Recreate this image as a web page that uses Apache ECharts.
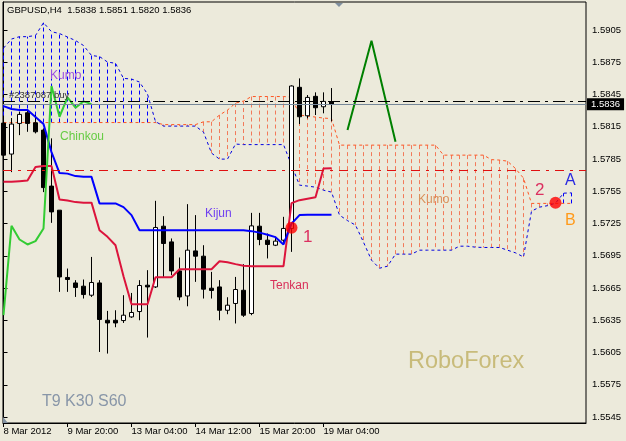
<!DOCTYPE html>
<html><head><meta charset="utf-8">
<script src="https://cdn.jsdelivr.net/npm/echarts@6/dist/echarts.min.js"></script>
<style>html,body{margin:0;padding:0;background:#eceadb;}#c{width:626px;height:441px;}</style>
</head><body><div id="c"></div>
<script>
const symbolName = 'GBPUSD';
const timeframe = 'H4';
const xTickPos = [0, 8, 16, 24, 32, 40];
const xTickLabels = ['8 Mar 2012', '9 Mar 20:00', '13 Mar 04:00', '14 Mar 12:00', '15 Mar 20:00', '19 Mar 04:00'];
const yTicks = [1.5545, 1.5575, 1.5605, 1.5635, 1.5665, 1.5695, 1.5725, 1.5755, 1.5785, 1.5815, 1.5845, 1.5875, 1.5905];

const opens = [1.58184,1.57896,1.58181,1.58280,1.58187,1.58119,1.57598,1.57374,1.56748,1.56697,1.56667,1.56583,1.56697,1.56350,1.56350,1.56347,1.56381,1.56431,1.56676,1.56660,1.57225,1.57079,1.56809,1.56576,1.56995,1.56946,1.56648,1.56660,1.56443,1.56506,1.56629,1.56413,1.57225,1.57095,1.57048,1.57095,1.57204,1.58517,1.58252,1.58433,1.58336,1.5838];
const closes = [1.57886,1.58175,1.58265,1.58181,1.58103,1.57584,1.57358,1.56753,1.56729,1.56655,1.56589,1.56701,1.56357,1.56325,1.56325,1.56397,1.56422,1.56673,1.56660,1.57213,1.57064,1.56809,1.56567,1.57002,1.56946,1.56639,1.56627,1.56443,1.56490,1.56636,1.56397,1.57228,1.57101,1.57055,1.57086,1.57204,1.58529,1.58243,1.58423,1.58327,1.58386,1.5836];
const highs = [1.58231,1.58231,1.58289,1.58305,1.58259,1.58135,1.58042,1.57374,1.56831,1.56723,1.56729,1.56939,1.56723,1.56437,1.56443,1.56583,1.56604,1.56723,1.56816,1.57461,1.57318,1.57111,1.56934,1.57430,1.57328,1.57048,1.56800,1.56723,1.56564,1.56753,1.56872,1.57349,1.57349,1.57157,1.57126,1.57312,1.58535,1.58600,1.58445,1.58470,1.58470,1.5851];
const lows = [1.57719,1.57728,1.58072,1.58103,1.58088,1.57542,1.57256,1.56614,1.56614,1.56567,1.56552,1.56567,1.56055,1.56040,1.56285,1.56325,1.56372,1.56350,1.56189,1.56650,1.56753,1.56769,1.56536,1.56480,1.56707,1.56552,1.56552,1.56350,1.56406,1.56320,1.56381,1.56397,1.57048,1.56925,1.57040,1.57070,1.56986,1.58175,1.58228,1.58259,1.58275,1.5820];

const tenkan = [1.57638,1.57638,1.57644,1.57649,1.57775,1.57784,1.57784,1.57474,1.57463,1.57449,1.57444,1.57444,1.57188,1.57126,1.57048,1.56760,1.56499,1.56499,1.56499,1.56750,1.56750,1.56750,1.56825,1.56825,1.56825,1.56825,1.56825,1.56899,1.56890,1.56872,1.56858,1.56853,1.56853,1.56853,1.56853,1.56853,1.57439,1.57467,1.57481,1.57495,1.57761,1.57765];
const kijun = [1.58342,1.58315,1.58305,1.58305,1.58240,1.58175,1.57914,1.57719,1.57714,1.57691,1.57684,1.57684,1.57437,1.57437,1.57437,1.57402,1.57328,1.57188,1.57188,1.57188,1.57188,1.57188,1.57188,1.57188,1.57188,1.57188,1.57188,1.57188,1.57188,1.57188,1.57188,1.57179,1.57165,1.57146,1.57123,1.57055,1.57249,1.57328,1.57332,1.57332,1.57332,1.57332];
const chinkou = [1.56397,1.57228,1.57101,1.57055,1.57086,1.57204,1.58529,1.58243,1.58423,1.58327,1.58386,1.5836];
const senkouA = [1.58189,1.58189,1.58189,1.58189,1.58189,1.58189,1.58189,1.58189,1.58189,1.58189,1.58189,1.58189,1.58189,1.58189,1.58189,1.58189,1.58189,1.58189,1.58189,1.58189,
  1.58170,1.58170,1.58170,1.58170,1.58170,1.58196,1.58196,1.58259,1.58305,1.58370,1.58389,1.58431,1.58431,1.58431,1.58431,1.58431,1.58426,1.58259,1.58249,1.58240,1.58231,1.58226,
  1.57979,1.57979,1.57979,1.57979,1.57979,1.57979,1.57979,1.57979,1.57979,1.57979,1.57979,1.57979,1.57979,1.57886,1.57886,1.57886,1.57886,1.57886,1.57886,1.57844,1.57840,1.57830,1.57761,1.57672,
  1.57437,1.57437,1.57437,1.57437,1.57437,1.57437];
const senkouB = [1.58882,1.58966,1.58988,1.58988,1.58999,1.59118,1.59034,1.59017,1.58985,1.58952,1.58906,1.58813,1.58803,1.58752,1.58740,1.58600,1.58594,1.58566,1.58454,1.58198,
  1.58156,1.58156,1.58156,1.58156,1.58156,1.58100,1.57905,1.57849,1.57849,1.57989,1.57984,1.57984,1.57984,1.57984,1.57984,1.57984,1.57793,1.57607,1.57598,1.57588,1.57560,1.57542,
  1.57328,1.57277,1.57235,1.57076,1.56909,1.56834,1.56853,1.56965,1.56965,1.56965,1.57002,1.57002,1.57002,1.57002,1.57002,1.57039,1.57039,1.57030,1.57027,1.57027,1.57027,1.57002,1.56977,1.56939,
  1.57365,1.57402,1.57416,1.57439,1.57532,1.57535];

const trendX = [43, 46, 49];
const trendY = [1.58119, 1.58950, 1.58010];
const signalX = [36, 69];
const signalY = [1.57211, 1.57444];
const orderPrice = 1.5839;
const orderLabel = '#2387087 buy';
const bidPrice = 1.5836;
const levelPrice = 1.5775;

const FONT = '"Liberation Sans", Arial, sans-serif';
const toXY = arr => arr.map((v, i) => [i, v]);
const last = opens.length - 1;
const titleText = symbolName + ',' + timeframe + '  ' + [opens[last], highs[last], lows[last], closes[last]].map(v => v.toFixed(4)).join(' ');

const candleData = opens.map((o, i) => [i, o, closes[i], lows[i], highs[i]]);
const hatchData = senkouA.map((a, i) => [i, a, senkouB[i]]);
const X_MIN = -0.0625, X_MAX = 72.8125;

const chart = echarts.init(document.getElementById('c'), null, {renderer: 'canvas'});

function txt(text, x, y, size, color) {
  return {type: 'text', z: 100, style: {text: text, x: x, y: y, font: size + 'px ' + FONT, fill: color, textVerticalAlign: 'middle'}};
}

chart.setOption({
  backgroundColor: '#eceadb',
  animation: false,
  grid: {left: 3, right: 40, top: 2, bottom: 18, show: true, borderColor: '#000', borderWidth: 1, backgroundColor: 'transparent'},
  xAxis: {
    type: 'value', min: X_MIN, max: X_MAX,
    splitLine: {show: false},
    axisLine: {show: true, onZero: false, lineStyle: {color: '#000', width: 1}},
    axisTick: {show: true, customValues: xTickPos, length: 4, lineStyle: {color: '#000'}},
    axisLabel: {customValues: xTickPos, formatter: v => xTickLabels[xTickPos.indexOf(Math.round(v))] || '', align: 'left', margin: 3, fontSize: 9.5, fontFamily: FONT, color: '#000'}
  },
  yAxis: {
    type: 'value', position: 'right', min: 1.553942, max: 1.593105, scale: true,
    splitLine: {show: false},
    axisLine: {show: true, lineStyle: {color: '#000', width: 1}},
    axisTick: {show: true, customValues: yTicks, length: 4, lineStyle: {color: '#000'}},
    axisLabel: {customValues: yTicks, formatter: v => v.toFixed(4), margin: 6, fontSize: 9.5, fontFamily: FONT, color: '#000'}
  },
  series: [
    {
      type: 'custom', name: 'kumo', z: 1, data: hatchData, encode: {x: 0, y: [1, 2]},
      renderItem: function (params, api) {
        const k = api.value(0), a = api.value(1), b = api.value(2);
        const p1 = api.coord([k, a]), p2 = api.coord([k, b]);
        return {type: 'line', shape: {x1: p1[0], y1: p1[1], x2: p2[0], y2: p2[1]},
          style: {stroke: a >= b ? '#f27a5a' : '#0000ff', lineWidth: 1, lineDash: [4, 3]}};
      }
    },
    {type: 'line', name: 'Senkou A', z: 2, data: toXY(senkouA), symbol: 'none', lineStyle: {color: '#ff5522', width: 1, type: [3, 3]}},
    {type: 'line', name: 'Senkou B', z: 2, data: toXY(senkouB), symbol: 'none', lineStyle: {color: '#0000e0', width: 1, type: [3, 3]}},
    {
      type: 'candlestick', name: 'price', z: 3, clip: false, data: candleData, encode: {x: 0, y: [1, 2, 3, 4]},
      barWidth: 5,
      itemStyle: {color: '#ffffff', color0: '#000000', borderColor: '#000000', borderColor0: '#000000', borderWidth: 1}
    },
    {
      type: 'line', name: 'Tenkan', z: 4, data: toXY(tenkan), symbol: 'none', lineStyle: {color: '#dc143c', width: 2},
      markLine: {
        silent: true, symbol: ['none', 'none'], animation: false, precision: 5,
        data: [
          [{coord: [X_MIN, orderPrice], lineStyle: {color: '#000', width: 1, type: [12, 5, 3, 5]},
            label: {show: true, position: 'insideStartTop', distance: [6, 1], formatter: orderLabel, color: '#333', fontSize: 9.5, fontFamily: FONT}},
           {coord: [X_MAX, orderPrice]}],
          [{coord: [X_MIN, bidPrice], lineStyle: {color: '#778899', width: 1, type: 'solid'},
            label: {show: true, position: 'end', distance: 1, formatter: bidPrice.toFixed(4), color: '#fff', backgroundColor: '#000', padding: [1, 4, 0, 4], lineHeight: 11, fontSize: 9.5, fontFamily: FONT}},
           {coord: [X_MAX, bidPrice]}],
          [{coord: [X_MIN, levelPrice], lineStyle: {color: '#e01010', width: 1, type: [9, 6, 3, 6]}, label: {show: false}},
           {coord: [X_MAX, levelPrice]}]
        ]
      }
    },
    {type: 'line', name: 'Kijun', z: 4, data: toXY(kijun), symbol: 'none', lineStyle: {color: '#0000ff', width: 2}},
    {type: 'line', name: 'Chinkou', z: 4, data: toXY(chinkou), symbol: 'none', lineStyle: {color: '#33cc33', width: 2}},
    {type: 'line', name: 'trend', z: 4, data: trendX.map((x, i) => [x, trendY[i]]), symbol: 'none', lineStyle: {color: '#008000', width: 2}},
    {type: 'scatter', name: 'signals', z: 6, data: signalX.map((x, i) => [x, signalY[i]]), symbol: 'circle', symbolSize: 12, itemStyle: {color: '#ff0000'}}
  ],
  graphic: [
    txt(titleText, 7, 10.5, 9.5, '#000'),
    txt('Kumo', 50, 76, 12, '#9a4ee2'),
    txt('Chinkou', 60, 137, 12, '#66cc44'),
    txt('Kijun', 205, 214, 12, '#7040f0'),
    txt('Tenkan', 270, 286, 12, '#d9305a'),
    txt('1', 303, 237, 17, '#dc3060'),
    txt('Kumo', 418, 200, 12, '#d9905a'),
    txt('2', 535, 190, 17, '#dc3060'),
    txt('A', 565, 181, 16, '#2a2ae0'),
    txt('B', 565, 221, 16, '#ff9a1a'),
    txt('RoboForex', 408, 362, 23.5, '#c8bb7a'),
    txt('T9 K30 S60', 42, 402, 16, '#8896a8'),
    {type: 'polygon', z: 100, shape: {points: [[335, 3], [343, 3], [339, 7]]}, style: {fill: '#8090a0'}},
    {type: 'polygon', z: 100, shape: {points: [[3, 417], [3, 423], [8, 423]]}, style: {fill: '#8090a0'}}
  ]
});
</script></body></html>
